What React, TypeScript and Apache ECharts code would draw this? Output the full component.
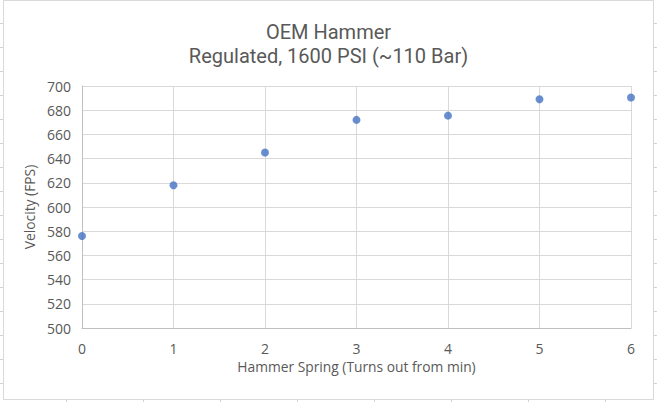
import { useEffect, useRef } from "react";
import * as echarts from "echarts";

const turnsOut = [0, 1, 2, 3, 4, 5, 6];
const velocityFps = [576, 618, 645, 672, 675.5, 689, 690.5];

const TITLE = "OEM Hammer";
const SUBTITLE = "Regulated, 1600 PSI (~110 Bar)";
const X_NAME = "Hammer Spring (Turns out from min)";
const Y_NAME = "Velocity (FPS)";

const FONT = "'Open Sans', 'Noto Sans', sans-serif";
const TITLE_FONT = "Roboto, 'Open Sans', sans-serif";
const TEXT = "#595959";

// spreadsheet cell lines peeking out around the chart
function sheetLines(): any[] {
  const stroke = { stroke: "#d4d4d4", lineWidth: 1 };
  const out: any[] = [];
  for (let y = 23.5; y < 402; y += 24) {
    out.push({ type: "line", shape: { x1: 0, y1: y, x2: 3, y2: y }, style: stroke, silent: true });
    out.push({ type: "line", shape: { x1: 654, y1: y, x2: 657, y2: y }, style: stroke, silent: true });
  }
  for (let x = 66.5; x < 657; x += 77) {
    out.push({ type: "line", shape: { x1: x, y1: 400, x2: x, y2: 402 }, style: stroke, silent: true });
  }
  out.push({
    type: "rect",
    shape: { x: 3.5, y: 0.5, width: 650, height: 399 },
    style: { fill: "none", stroke: "#d9d9d9", lineWidth: 1 },
    silent: true,
    z: 10,
  });
  return out;
}

export default function App() {
  const el = useRef<HTMLDivElement>(null);

  useEffect(() => {
    if (!el.current) return;
    const chart = echarts.init(el.current, undefined, { renderer: "svg" });
    chart.setOption({
      animation: false,
      backgroundColor: "#ffffff",
      textStyle: { fontFamily: FONT },
      title: {
        text: TITLE,
        subtext: SUBTITLE,
        left: "center",
        top: 20,
        padding: 0,
        itemGap: 0,
        textStyle: { color: TEXT, fontFamily: TITLE_FONT, fontSize: 20, fontWeight: "normal", lineHeight: 24 },
        subtextStyle: { color: TEXT, fontFamily: TITLE_FONT, fontSize: 20, lineHeight: 24 },
      },
      grid: { left: 82, right: 26, top: 86, bottom: 74 },
      xAxis: {
        type: "value",
        min: 0,
        max: 6,
        interval: 1,
        name: X_NAME,
        nameLocation: "middle",
        nameGap: 31,
        nameTextStyle: { color: TEXT, fontSize: 13.8, fontFamily: FONT },
        axisLine: { show: true, lineStyle: { color: "#bfbfbf" } },
        axisTick: { show: false },
        axisLabel: { color: TEXT, fontSize: 14, margin: 13 },
        splitLine: { show: true, lineStyle: { color: "#d9d9d9" } },
      },
      yAxis: {
        type: "value",
        min: 500,
        max: 700,
        interval: 20,
        name: Y_NAME,
        nameLocation: "middle",
        nameGap: 37,
        nameTextStyle: { color: TEXT, fontSize: 13.8, fontFamily: FONT },
        axisLine: { show: true, lineStyle: { color: "#bfbfbf" } },
        axisTick: { show: false },
        axisLabel: { color: TEXT, fontSize: 14, margin: 11 },
        splitLine: { show: true, lineStyle: { color: "#d9d9d9" } },
      },
      series: [
        {
          type: "scatter",
          data: turnsOut.map((t, i) => [t, velocityFps[i]]),
          symbol: "circle",
          symbolSize: 8,
          itemStyle: { color: "#4472c4" },
          clip: false,
        },
      ],
      graphic: sheetLines(),
    });
    return () => chart.dispose();
  }, []);

  return (
    <div
      ref={el}
      style={{ position: "fixed", left: 0, top: 0, width: 657, height: 402 }}
    />
  );
}
